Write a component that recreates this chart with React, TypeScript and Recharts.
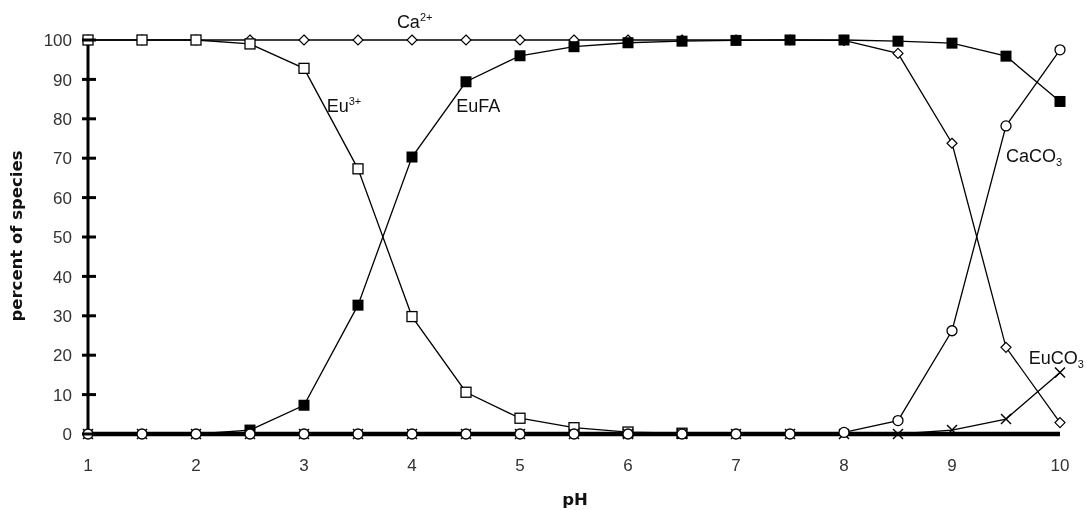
import React from 'react';
import { LineChart, Line, XAxis, YAxis, ReferenceDot } from 'recharts';

// pH steps and species percentages
const PH = [1, 1.5, 2, 2.5, 3, 3.5, 4, 4.5, 5, 5.5, 6, 6.5, 7, 7.5, 8, 8.5, 9, 9.5, 10];
const EU3 = [100, 100, 100, 99, 92.8, 67.3, 29.8, 10.6, 4, 1.6, 0.5, 0.2, 0, 0, 0, 0, 0, 0, 0];
const EUFA = [0, 0, 0, 1, 7.3, 32.7, 70.3, 89.4, 96, 98.3, 99.3, 99.7, 99.9, 100, 100, 99.7, 99.2, 95.9, 84.4];
const CA2 = [100, 100, 100, 100, 100, 100, 100, 100, 100, 100, 100, 100, 100, 100, 99.9, 96.6, 73.8, 22, 2.9];
const CACO3 = [0, 0, 0, 0, 0, 0, 0, 0, 0, 0, 0, 0, 0, 0, 0.4, 3.4, 26.2, 78.2, 97.5];
const EUCO3 = [0, 0, 0, 0, 0, 0, 0, 0, 0, 0, 0, 0, 0, 0, 0, 0, 1, 3.8, 15.6];

const X_TICKS = [1, 2, 3, 4, 5, 6, 7, 8, 9, 10];
const Y_TICKS = [0, 10, 20, 30, 40, 50, 60, 70, 80, 90, 100];

const data = PH.map((ph, i) => ({
    ph,
    eu3: EU3[i],
    eufa: EUFA[i],
    ca2: CA2[i],
    caco3: CACO3[i],
    euco3: EUCO3[i],
}));

const FONT = '"Liberation Sans", Arial, sans-serif';
const TITLE_FONT = '"DejaVu Sans", sans-serif';

// marker shapes
const OpenSquare = ({ cx, cy, value }: any) =>
    value === 0 ? <g /> : <rect x={cx - 5} y={cy - 5} width={10} height={10} fill="#fff" stroke="#000" strokeWidth={1.3} />;
const FilledSquare = ({ cx, cy, value }: any) =>
    value === 0 ? <g /> : <rect x={cx - 5.5} y={cy - 5.5} width={11} height={11} fill="#000" />;
const Diamond = ({ cx, cy }: any) => (
    <polygon points={`${cx},${cy - 5} ${cx + 5},${cy} ${cx},${cy + 5} ${cx - 5},${cy}`} fill="#fff" stroke="#000" strokeWidth={1.2} />
);
const Circle = ({ cx, cy }: any) => <circle cx={cx} cy={cy} r={5} fill="#fff" stroke="#000" strokeWidth={1.3} />;
const Cross = ({ cx, cy }: any) => (
    <g stroke="#000" strokeWidth={1.4}>
        <line x1={cx - 5} y1={cy - 5} x2={cx + 5} y2={cy + 5} />
        <line x1={cx - 5} y1={cy + 5} x2={cx + 5} y2={cy - 5} />
    </g>
);

const XTick = ({ x, y, payload }: any) => (
    <text x={x} y={y + 37} textAnchor="middle" fontSize={17} fill="#333" fontFamily={FONT}>{payload.value}</text>
);

const YTick = ({ x, y, payload }: any) => (
    <g>
        <line x1={x - 6} x2={x + 8} y1={y} y2={y} stroke="#000" strokeWidth={3} />
        <text x={x - 16} y={y} dy="0.36em" textAnchor="end" fontSize={17} fill="#333" fontFamily={FONT}>{payload.value}</text>
    </g>
);

// annotation text with super/subscript
const Note = (main: string, script: string, kind: 'sup' | 'sub') => (p: any) => (
    <text x={p.cx} y={p.cy} fontSize={18} fill="#111" fontFamily={FONT}>
        {main}
        <tspan fontSize={11} dy={kind === 'sup' ? -7 : 4}>{script}</tspan>
    </text>
);

export default function App() {
    return (
        <div style={{ fontFamily: FONT, position: 'fixed', left: 0, top: 0 }}>
            <LineChart width={1087} height={510} data={data} margin={{ top: 40, right: 27, left: 0, bottom: 0 }} style={{ display: 'block' }}>
                <XAxis
                    dataKey="ph"
                    type="number"
                    domain={[1, 10]}
                    ticks={X_TICKS}
                    tickSize={0}
                    tickMargin={0}
                    tick={<XTick />}
                    height={76}
                    axisLine={{ stroke: '#000', strokeWidth: 4.5 }}
                    label={{
                        content: ({ viewBox }: any) => (
                            <text x={viewBox.x + viewBox.width / 2 + 1} y={viewBox.y + 71} textAnchor="middle" fontSize={16.5} fontWeight="bold" fill="#111" fontFamily={TITLE_FONT}>pH</text>
                        ),
                    }}
                />
                <YAxis
                    type="number"
                    domain={[0, 100]}
                    ticks={Y_TICKS}
                    width={88}
                    tickSize={0}
                    tickMargin={0}
                    tick={<YTick />}
                    axisLine={{ stroke: '#000', strokeWidth: 3 }}
                    label={{
                        content: ({ viewBox }: any) => {
                            const cy = viewBox.y + viewBox.height / 2 - 1;
                            return (
                                <text x={21.5} y={cy} transform={`rotate(-90 21.5 ${cy})`} textAnchor="middle" fontSize={16.5} fontWeight="bold" fill="#111" fontFamily={TITLE_FONT}>percent of species</text>
                            );
                        },
                    }}
                />

                <Line dataKey="ca2" stroke="#000" strokeWidth={1.3} dot={<Diamond />} isAnimationActive={false} />
                <Line dataKey="eu3" stroke="#000" strokeWidth={1.3} dot={<OpenSquare />} isAnimationActive={false} />
                <Line dataKey="eufa" stroke="#000" strokeWidth={1.3} dot={<FilledSquare />} isAnimationActive={false} />
                <Line dataKey="euco3" stroke="#000" strokeWidth={1.3} dot={<Cross />} isAnimationActive={false} />
                <Line dataKey="caco3" stroke="#000" strokeWidth={1.3} dot={<Circle />} isAnimationActive={false} />

                <ReferenceDot x={3.86} y={103} r={0} ifOverflow="visible" shape={Note('Ca', '2+', 'sup')} />
                <ReferenceDot x={3.21} y={81.7} r={0} ifOverflow="visible" shape={Note('Eu', '3+', 'sup')} />
                <ReferenceDot x={4.41} y={81.7} r={0} ifOverflow="visible" shape={Note('EuFA', '', 'sup')} />
                <ReferenceDot x={9.5} y={69} r={0} ifOverflow="visible" shape={Note('CaCO', '3', 'sub')} />
                <ReferenceDot x={9.71} y={17.8} r={0} ifOverflow="visible" shape={Note('EuCO', '3', 'sub')} />
            </LineChart>
        </div>
    );
}
